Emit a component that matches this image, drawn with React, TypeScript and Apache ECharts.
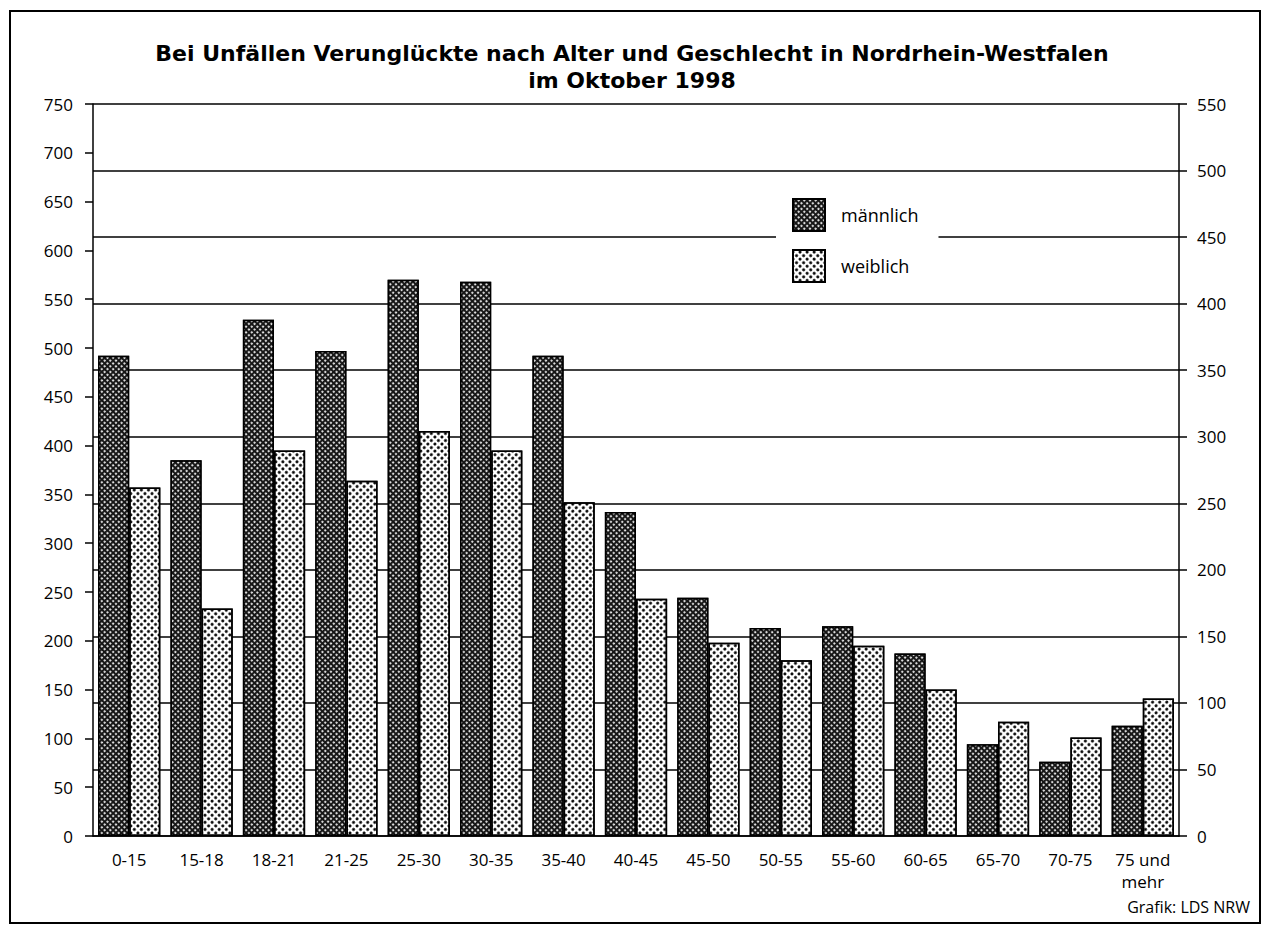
import React, { useEffect, useRef } from "react";
import * as echarts from "echarts";

const categories = [
  "0-15", "15-18", "18-21", "21-25", "25-30", "30-35", "35-40", "40-45",
  "45-50", "50-55", "55-60", "60-65", "65-70", "70-75", "75 und\nmehr",
];
const maleValues = [492, 385, 529, 497, 570, 568, 492, 332, 244, 213, 215, 187, 94, 76, 113];
const femaleValues = [357, 233, 395, 364, 415, 395, 342, 243, 198, 180, 195, 150, 117, 101, 141];
const leftTicks = { min: 0, max: 750, interval: 50 };
const rightTicks = { min: 0, max: 550, interval: 50 };
const titleText = "Bei Unfällen Verunglückte nach Alter und Geschlecht in Nordrhein-Westfalen\nim Oktober 1998";
const sourceText = "Grafik: LDS NRW";
const seriesNames = ["männlich", "weiblich"];

const FONT = "'Open Sans', 'Noto Sans', sans-serif";
const TITLE_FONT = "'DejaVu Sans', 'Open Sans', sans-serif";

export default function App() {
  const ref = useRef<HTMLDivElement>(null);
  useEffect(() => {
    document.body.style.margin = "0";
    const chart = echarts.init(ref.current!, null, { renderer: "svg" });
    chart.setOption({
      animation: false,
      backgroundColor: "#fff",
      textStyle: { fontFamily: FONT, color: "#000" },
      title: {
        text: titleText,
        left: "center",
        top: 35,
        textStyle: { fontFamily: TITLE_FONT, fontSize: 22, fontWeight: "bold", color: "#000", lineHeight: 27 },
      },
      legend: {
        orient: "vertical",
        left: 776,
        top: 188,
        padding: [10, 20, 10, 16],
        backgroundColor: "#fff",
        itemWidth: 32,
        itemHeight: 32,
        itemGap: 17,
        icon: "rect",
        data: seriesNames,
        textStyle: { fontFamily: FONT, fontSize: 18, color: "#000", padding: [0, 0, 0, 11] },
      },
      grid: { left: 93, right: 85, top: 104, bottom: 96, containLabel: false },
      xAxis: {
        type: "category",
        data: categories,
        axisLine: { show: true, lineStyle: { color: "#000", width: 1.5 } },
        axisTick: { show: false },
        axisLabel: { interval: 0, fontFamily: FONT, fontSize: 17, color: "#000", margin: 12, lineHeight: 22 },
        splitLine: { show: false },
      },
      yAxis: [
        {
          type: "value",
          position: "left",
          ...leftTicks,
          axisLine: { show: true, lineStyle: { color: "#000", width: 1.5 } },
          axisTick: { show: true, length: 8, lineStyle: { color: "#000", width: 1.5 } },
          axisLabel: { fontFamily: FONT, fontSize: 17, color: "#000", margin: 20 },
          splitLine: { show: false },
        },
        {
          type: "value",
          position: "right",
          ...rightTicks,
          axisLine: { show: true, lineStyle: { color: "#000", width: 1.5 } },
          axisTick: { show: true, length: 8, lineStyle: { color: "#000", width: 1.5 } },
          axisLabel: { fontFamily: FONT, fontSize: 17, color: "#000", margin: 18 },
          splitLine: { show: true, lineStyle: { color: "#000", width: 1.5 } },
        },
      ],
      series: [
        {
          name: seriesNames[0],
          type: "bar",
          yAxisIndex: 0,
          data: maleValues,
          barGap: "0%",
          barCategoryGap: "14%",
          itemStyle: {
            color: "#151515",
            borderColor: "#000",
            borderWidth: 1.5,
            decal: {
              symbol: "circle",
              symbolSize: 1,
              color: "#ffffff",
              dashArrayX: [2, 2],
              dashArrayY: [2, 2],
              rotation: Math.PI / 4,
            },
          },
        },
        {
          name: seriesNames[1],
          type: "bar",
          yAxisIndex: 0,
          data: femaleValues,
          itemStyle: {
            color: "#ffffff",
            borderColor: "#000",
            borderWidth: 1.5,
            decal: {
              symbol: "circle",
              symbolSize: 1,
              color: "#000000",
              dashArrayX: [2.4, 1.6],
              dashArrayY: [2.4, 1.6],
              rotation: Math.PI / 4,
            },
          },
        },
      ],
      graphic: [
        {
          type: "rect",
          shape: { x: 10, y: 11, width: 1250, height: 912 },
          style: { fill: "none", stroke: "#000", lineWidth: 2 },
          silent: true,
          z: 100,
        },
        {
          type: "text",
          x: 1250,
          y: 907,
          style: {
            text: sourceText,
            fontFamily: FONT,
            fontSize: 16,
            fill: "#000",
            textAlign: "right",
            textVerticalAlign: "middle",
          },
        },
      ],
    });
    return () => chart.dispose();
  }, []);
  return <div ref={ref} style={{ width: 1264, height: 932 }} />;
}
